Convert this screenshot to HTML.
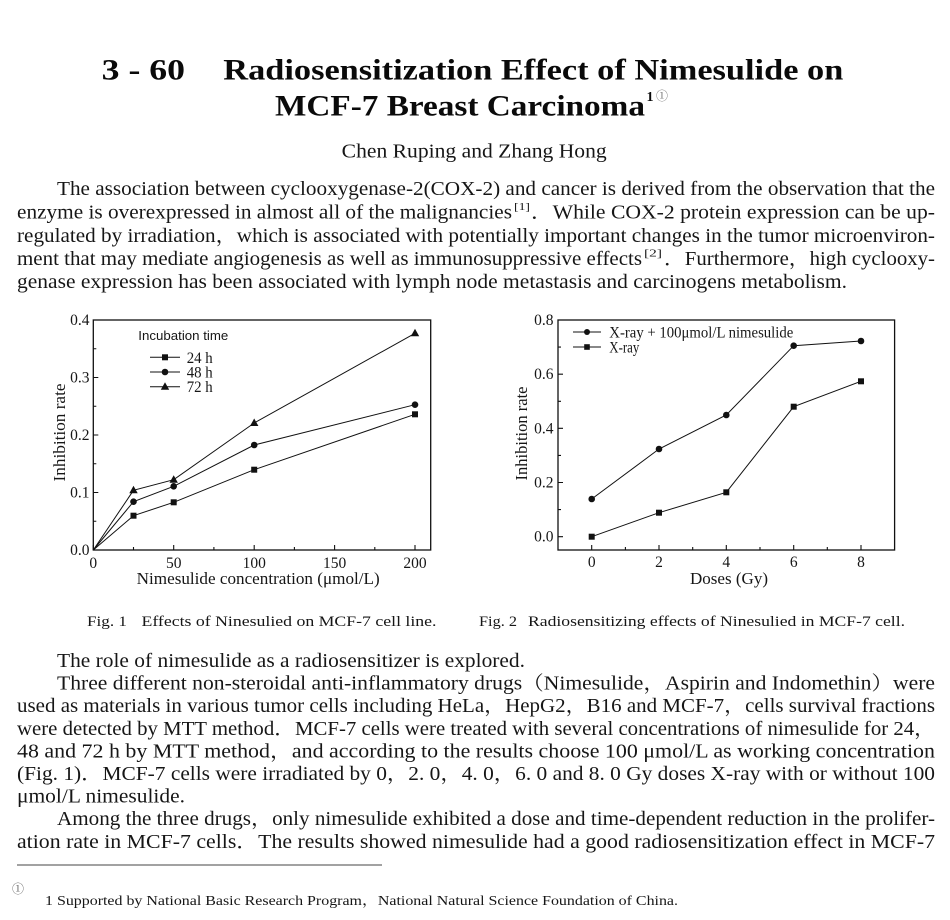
<!DOCTYPE html>
<html><head><meta charset="utf-8"><style>
html,body{margin:0;padding:0;background:#fff;}
svg{display:block;}
.s{font-family:"Liberation Serif","Noto Serif CJK SC",serif;fill:#161616;}
.b{font-weight:bold;fill:#0a0a0a;}
.a{font-family:"Liberation Sans","Noto Sans CJK SC",sans-serif;fill:#161616;}
</style></head><body>
<svg width="950" height="920" viewBox="0 0 950 920" xmlns="http://www.w3.org/2000/svg">
<rect width="950" height="920" fill="#fff"/>
<!-- Title -->
<text class="s b" x="101.7" y="79.3" font-size="30" textLength="83.3" lengthAdjust="spacingAndGlyphs">3 - 60</text>
<text class="s b" x="223.3" y="79.3" font-size="30" textLength="620" lengthAdjust="spacingAndGlyphs">Radiosensitization Effect of Nimesulide on</text>
<text class="s b" x="275" y="115.7" font-size="30" textLength="370" lengthAdjust="spacingAndGlyphs">MCF-7 Breast Carcinoma</text>
<text class="s b" x="646.5" y="101" font-size="14">1</text>
<text class="s" x="656" y="100" font-size="12" style="fill:#666">①</text>
<!-- Author -->
<text class="s" x="341.7" y="157.7" font-size="20" textLength="265" lengthAdjust="spacingAndGlyphs">Chen Ruping and Zhang Hong</text>
<!-- Paragraph 1 -->
<g font-size="19.5">
<text class="s" x="57" y="195" textLength="878" lengthAdjust="spacingAndGlyphs">The association between cyclooxygenase-2(COX-2) and cancer is derived from the observation that the</text>
<text class="s" x="17" y="218.5" textLength="495" lengthAdjust="spacingAndGlyphs">enzyme is overexpressed in almost all of the malignancies</text>
<text class="s" x="514" y="210" font-size="11" textLength="16" lengthAdjust="spacingAndGlyphs">[1]</text>
<text class="s" x="531" y="218.5" textLength="404" lengthAdjust="spacingAndGlyphs">．While COX-2 protein expression can be up-</text>
<text class="s" x="17" y="242" textLength="918" lengthAdjust="spacingAndGlyphs">regulated by irradiation，which is associated with potentially important changes in the tumor microenviron-</text>
<text class="s" x="17" y="265" textLength="625" lengthAdjust="spacingAndGlyphs">ment that may mediate angiogenesis as well as immunosuppressive effects</text>
<text class="s" x="644" y="256.5" font-size="11" textLength="18" lengthAdjust="spacingAndGlyphs">[2]</text>
<text class="s" x="664" y="265" textLength="271" lengthAdjust="spacingAndGlyphs">．Furthermore，high cyclooxy-</text>
<text class="s" x="17" y="288" textLength="830" lengthAdjust="spacingAndGlyphs">genase expression has been associated with lymph node metastasis and carcinogens metabolism.</text>
</g>

<!-- Chart 1 -->
<g stroke="#111" fill="none">
<rect x="93.3" y="320" width="337.4" height="230" stroke-width="1.3"/>
<g stroke-width="1.1">
<path d="M93.3 550v-5M173.7 550v-5M254.2 550v-5M334.6 550v-5M415 550v-5"/>
<path d="M133.5 550v-3M213.9 550v-3M294.4 550v-3M374.8 550v-3"/>
<path d="M93.3 492.5h5M93.3 435h5M93.3 377.5h5M93.3 320h5"/>
<path d="M93.3 521.25h3M93.3 463.75h3M93.3 406.25h3M93.3 348.75h3"/>
</g>
<g stroke-width="1">
<polyline points="93.3,550 133.5,515.7 173.7,502.3 254.2,469.7 415,414.3"/>
<polyline points="93.3,550 133.5,501.7 173.7,486.3 254.2,445 415,404.7"/>
<polyline points="93.3,550 133.5,490.3 173.7,479.7 254.2,423 415,333.3"/>
<line x1="150" y1="357.3" x2="180" y2="357.3"/>
<line x1="150" y1="372" x2="180" y2="372"/>
<line x1="150" y1="386.7" x2="180" y2="386.7"/>
</g>
</g>
<g fill="#111">
<rect x="130.5" y="512.7" width="6" height="6"/><rect x="170.7" y="499.3" width="6" height="6"/><rect x="251.2" y="466.7" width="6" height="6"/><rect x="412" y="411.3" width="6" height="6"/>
<circle cx="133.5" cy="501.7" r="3.3"/><circle cx="173.7" cy="486.3" r="3.3"/><circle cx="254.2" cy="445" r="3.3"/><circle cx="415" cy="404.7" r="3.3"/>
<polygon points="133.5,485.8 129.3,493.3 137.7,493.3"/><polygon points="173.7,475.2 169.5,482.7 177.9,482.7"/><polygon points="254.2,418.5 250,426 258.4,426"/><polygon points="415,328.8 410.8,336.3 419.2,336.3"/>
<rect x="162" y="354.3" width="6" height="6"/>
<circle cx="165" cy="372" r="3.3"/>
<polygon points="165,382.2 160.8,389.7 169.2,389.7"/>
</g>
<g font-size="15.5">
<text class="s" x="89.5" y="555" text-anchor="end">0.0</text>
<text class="s" x="89.5" y="497.5" text-anchor="end">0.1</text>
<text class="s" x="89.5" y="440" text-anchor="end">0.2</text>
<text class="s" x="89.5" y="382.5" text-anchor="end">0.3</text>
<text class="s" x="89.5" y="325" text-anchor="end">0.4</text>
<text class="s" x="93.3" y="568" text-anchor="middle">0</text>
<text class="s" x="173.7" y="568" text-anchor="middle">50</text>
<text class="s" x="254.2" y="568" text-anchor="middle">100</text>
<text class="s" x="334.6" y="568" text-anchor="middle">150</text>
<text class="s" x="415" y="568" text-anchor="middle">200</text>
</g>
<g font-size="16">
<text class="s" x="186.7" y="362.8" textLength="26" lengthAdjust="spacingAndGlyphs">24 h</text>
<text class="s" x="186.7" y="377.5" textLength="26" lengthAdjust="spacingAndGlyphs">48 h</text>
<text class="s" x="186.7" y="392.2" textLength="26" lengthAdjust="spacingAndGlyphs">72 h</text>
</g>
<text class="a" x="138.3" y="340" font-size="13" textLength="90" lengthAdjust="spacingAndGlyphs">Incubation time</text>
<text class="s" x="136.7" y="584" font-size="17" textLength="243" lengthAdjust="spacingAndGlyphs">Nimesulide concentration (μmol/L)</text>
<text class="s" font-size="17" transform="translate(65,432.5) rotate(-90)" text-anchor="middle" textLength="98" lengthAdjust="spacingAndGlyphs">Inhibition rate</text>

<!-- Chart 2 -->
<g stroke="#111" fill="none">
<rect x="558" y="320" width="336.6" height="230" stroke-width="1.3"/>
<g stroke-width="1.1">
<path d="M591.7 550v-5M659 550v-5M726.3 550v-5M793.7 550v-5M861 550v-5"/>
<path d="M625.4 550v-3M692.7 550v-3M760 550v-3M827.3 550v-3"/>
<path d="M558 536.7h5M558 482.5h5M558 428.3h5M558 374.2h5M558 320h5"/>
<path d="M558 509.6h3M558 455.4h3M558 401.3h3M558 347.1h3"/>
</g>
<g stroke-width="1">
<polyline points="591.7,499 659,449 726.3,415 793.7,345.7 861,341"/>
<polyline points="591.7,536.7 659,512.7 726.3,492.3 793.7,406.7 861,381.3"/>
<line x1="573" y1="332" x2="601" y2="332"/>
<line x1="573" y1="347" x2="601" y2="347"/>
</g>
</g>
<g fill="#111">
<circle cx="591.7" cy="499" r="3.3"/><circle cx="659" cy="449" r="3.3"/><circle cx="726.3" cy="415" r="3.3"/><circle cx="793.7" cy="345.7" r="3.3"/><circle cx="861" cy="341" r="3.3"/>
<rect x="588.7" y="533.7" width="6" height="6"/><rect x="656" y="509.7" width="6" height="6"/><rect x="723.3" y="489.3" width="6" height="6"/><rect x="790.7" y="403.7" width="6" height="6"/><rect x="858" y="378.3" width="6" height="6"/>
<circle cx="587" cy="332" r="3"/>
<rect x="584.2" y="344.2" width="5.6" height="5.6"/>
</g>
<g font-size="15.5">
<text class="s" x="553.5" y="541.7" text-anchor="end">0.0</text>
<text class="s" x="553.5" y="487.5" text-anchor="end">0.2</text>
<text class="s" x="553.5" y="433.3" text-anchor="end">0.4</text>
<text class="s" x="553.5" y="379.2" text-anchor="end">0.6</text>
<text class="s" x="553.5" y="325" text-anchor="end">0.8</text>
<text class="s" x="591.7" y="567" text-anchor="middle">0</text>
<text class="s" x="659" y="567" text-anchor="middle">2</text>
<text class="s" x="726.3" y="567" text-anchor="middle">4</text>
<text class="s" x="793.7" y="567" text-anchor="middle">6</text>
<text class="s" x="861" y="567" text-anchor="middle">8</text>
</g>
<g font-size="16">
<text class="s" x="609.3" y="337.5" textLength="184" lengthAdjust="spacingAndGlyphs">X-ray + 100μmol/L nimesulide</text>
<text class="s" x="609.3" y="352.5" textLength="30" lengthAdjust="spacingAndGlyphs">X-ray</text>
</g>
<text class="s" x="690" y="584" font-size="17" textLength="78" lengthAdjust="spacingAndGlyphs">Doses (Gy)</text>
<text class="s" font-size="17" transform="translate(527,433.5) rotate(-90)" text-anchor="middle" textLength="94" lengthAdjust="spacingAndGlyphs">Inhibition rate</text>

<!-- Captions -->
<g font-size="15">
<text class="s" x="87" y="626" textLength="40" lengthAdjust="spacingAndGlyphs">Fig. 1</text>
<text class="s" x="141.5" y="626" textLength="295" lengthAdjust="spacingAndGlyphs">Effects of Ninesulied on MCF-7 cell line.</text>
<text class="s" x="479" y="626" textLength="38" lengthAdjust="spacingAndGlyphs">Fig. 2</text>
<text class="s" x="528" y="626" textLength="377" lengthAdjust="spacingAndGlyphs">Radiosensitizing effects of Ninesulied in MCF-7 cell.</text>
</g>

<!-- Lower paragraphs -->
<g font-size="19.5">
<text class="s" x="57" y="667" textLength="468" lengthAdjust="spacingAndGlyphs">The role of nimesulide as a radiosensitizer is explored.</text>
<text class="s" x="57" y="689.6" textLength="878" lengthAdjust="spacingAndGlyphs">Three different non-steroidal anti-inflammatory drugs（Nimesulide，Aspirin and Indomethin）were</text>
<text class="s" x="17" y="712.2" textLength="918" lengthAdjust="spacingAndGlyphs">used as materials in various tumor cells including HeLa，HepG2，B16 and MCF-7，cells survival fractions</text>
<text class="s" x="17" y="734.8" textLength="918" lengthAdjust="spacingAndGlyphs">were detected by MTT method．MCF-7 cells were treated with several concentrations of nimesulide for 24，</text>
<text class="s" x="17" y="757.4" textLength="918" lengthAdjust="spacingAndGlyphs">48 and 72 h by MTT method，and according to the results choose 100 μmol/L as working concentration</text>
<text class="s" x="17" y="780" textLength="918" lengthAdjust="spacingAndGlyphs">(Fig. 1)．MCF-7 cells were irradiated by 0，2. 0，4. 0，6. 0 and 8. 0 Gy doses X-ray with or without 100</text>
<text class="s" x="17" y="802.6" textLength="168" lengthAdjust="spacingAndGlyphs">μmol/L nimesulide.</text>
<text class="s" x="57" y="825.2" textLength="878" lengthAdjust="spacingAndGlyphs">Among the three drugs，only nimesulide exhibited a dose and time-dependent reduction in the prolifer-</text>
<text class="s" x="17" y="847.8" textLength="918" lengthAdjust="spacingAndGlyphs">ation rate in MCF-7 cells．The results showed nimesulide had a good radiosensitization effect in MCF-7</text>
</g>

<!-- Footnote -->
<line x1="17" y1="865" x2="382" y2="865" stroke="#444" stroke-width="1"/>
<text class="s" x="12" y="893" font-size="12" style="fill:#555">①</text>
<text class="s" x="45" y="905" font-size="14" textLength="633" lengthAdjust="spacingAndGlyphs">1  Supported by National Basic Research Program，National Natural Science Foundation of China.</text>
</svg>
</body></html>
